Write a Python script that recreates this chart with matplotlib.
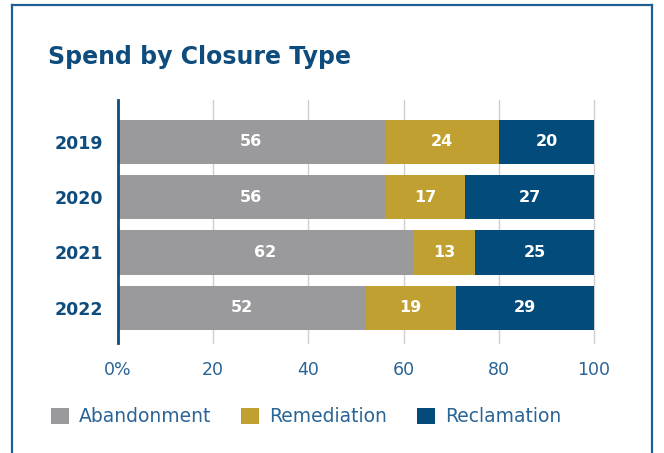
import matplotlib
matplotlib.use('Agg')
import matplotlib.pyplot as plt
from matplotlib.patches import Patch
from matplotlib.lines import Line2D

years = ['2019', '2020', '2021', '2022']
abandonment = [56, 56, 62, 52]
remediation = [24, 17, 13, 19]
reclamation = [20, 27, 25, 29]
series_names = ['Abandonment', 'Remediation', 'Reclamation']
xticks = [0, 20, 40, 60, 80, 100]
xtick_labels = ['0%', '20', '40', '60', '80', '100']

blue = '#0d4c7d'
colors = ['#9a9a9d', '#c0a030', '#034b7b']
plt.rcParams['font.family'] = ['DejaVu Sans']

fig = plt.figure(figsize=(6.64, 4.53), dpi=100)
ax = fig.add_axes([118 / 664, 1 - 343 / 453, 476 / 664, 243 / 453])

# outer frame
fw, fh = 664, 453
fig.add_artist(Line2D([12 / fw, 12 / fw], [0, 1 - 5 / fh], color='#1f5f93', lw=1.6, transform=fig.transFigure))
fig.add_artist(Line2D([12 / fw, 652 / fw], [1 - 5 / fh, 1 - 5 / fh], color='#1f5f93', lw=1.6, transform=fig.transFigure))
fig.add_artist(Line2D([652 / fw, 652 / fw], [0, 1 - 5 / fh], color='#1f5f93', lw=1.6, transform=fig.transFigure))

y = list(range(len(years)))
left = [0] * len(years)
for vals, c in zip([abandonment, remediation, reclamation], colors):
    bars = ax.barh(y, vals, left=left, height=0.8, color=c, zorder=3)
    for b, v, l in zip(bars, vals, left):
        ax.text(l + v / 2, b.get_y() + b.get_height() / 2, str(v), ha='center', va='center',
                color='white', fontsize=11.5, fontweight='bold', zorder=4)
    left = [a + b for a, b in zip(left, vals)]

ax.set_ylim(3.64, -0.76)
ax.set_xlim(0, 100)
ax.set_yticks(y)
ax.set_yticklabels(years, color=blue, fontsize=12.5, fontweight='bold')
ax.set_xticks(xticks)
ax.set_xticklabels(xtick_labels, color='#2a6496', fontsize=12.5)
ax.tick_params(axis='both', length=0)
ax.tick_params(axis='y', pad=10.7)
ax.tick_params(axis='x', pad=13)
for s in ['top', 'right', 'bottom']:
    ax.spines[s].set_visible(False)
ax.spines['left'].set_color(blue)
ax.spines['left'].set_linewidth(2)
ax.spines['left'].set_zorder(5)
for gx in xticks[1:]:
    ax.axvline(gx, color='#cfcfcf', linewidth=1, zorder=0, clip_on=False)

fig.text(48 / fw, 1 - 57 / fh, 'Spend by Closure Type', color=blue, fontsize=17,
         fontweight='bold', va='center', ha='left')

handles = [Patch(facecolor=c, edgecolor='none') for c in colors]
fig.legend(handles, series_names, loc='center left', bbox_to_anchor=(34 / fw, 1 - 417 / fh),
           ncol=3, frameon=False, fontsize=13.5, labelcolor='#2a6496', handlelength=0.95,
           handleheight=0.95, handletextpad=0.55, columnspacing=1.6)

fig.savefig('out.png', dpi=100, facecolor='white')
